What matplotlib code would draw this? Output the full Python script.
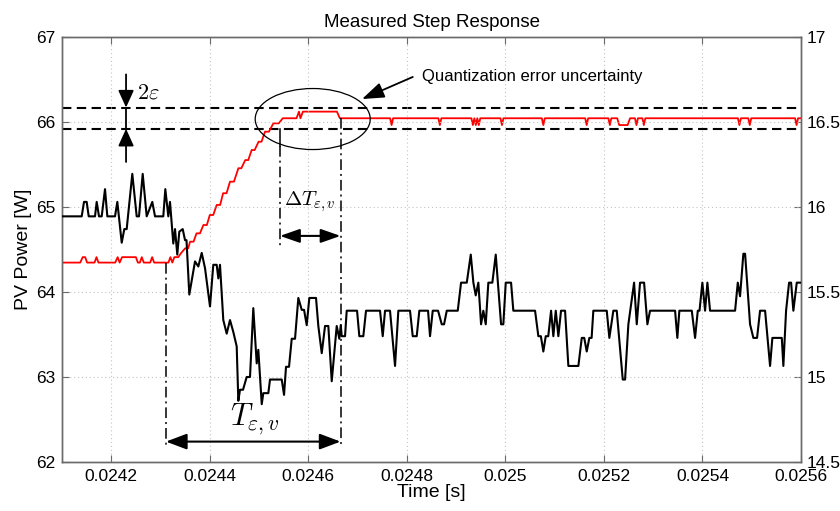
import matplotlib
matplotlib.use("Agg")
import matplotlib.pyplot as plt
import numpy as np
from matplotlib.patches import Ellipse

plt.rcParams['font.family'] = ['Liberation Sans', 'DejaVu Sans']
plt.rcParams['mathtext.fontset'] = 'cm'

# ---------------- data ----------------
# PV power (left axis), time in microseconds
black_t_us = [24100.0, 24140.0, 24144.7, 24150.1, 24154.2, 24167.0, 24170.4, 24175.1, 24180.6, 24187.3,
              24192.0, 24207.6, 24212.3, 24221.2, 24226.5, 24231.3, 24242.7, 24251.6, 24256.3, 24263.8,
              24271.9, 24283.3, 24288.8, 24305.6, 24309.7, 24315.8, 24319.2, 24325.9, 24329.4, 24334.0,
              24338.1, 24345.0, 24349.7, 24352.7, 24358.4, 24370.0, 24376.7, 24383.6, 24390.3, 24400.4,
              24407.1, 24414.0, 24417.3, 24420.7, 24427.4, 24434.3, 24441.0, 24447.7, 24454.6, 24457.9,
              24461.3, 24467.4, 24474.9, 24481.6, 24488.3, 24495.2, 24498.5, 24505.4, 24508.6, 24518.8,
              24522.2, 24546.0, 24550.7, 24554.7, 24560.8, 24566.3, 24573.0, 24579.7, 24586.6, 24591.3,
              24596.7, 24602.0, 24615.6, 24620.3, 24627.2, 24633.9, 24640.6, 24647.5, 24657.6, 24662.9,
              24665.8, 24667.8, 24674.5, 24677.9, 24698.9, 24703.5, 24711.6, 24717.1, 24745.5, 24751.0,
              24755.7, 24765.8, 24776.0, 24782.7, 24806.4, 24811.9, 24820.0, 24825.3, 24843.0, 24847.0,
              24852.5, 24863.3, 24870.8, 24875.5, 24881.0, 24903.3, 24910.0, 24921.6, 24929.7, 24935.0,
              24939.8, 24945.1, 24950.6, 24955.2, 24960.1, 24965.4, 24973.5, 24980.4, 24991.2, 24995.8,
              25000.7, 25011.5, 25016.1, 25060.2, 25066.9, 25072.0, 25077.0, 25081.9, 25087.0, 25092.7,
              25097.3, 25102.2, 25107.5, 25112.9, 25121.1, 25127.8, 25148.1, 25155.0, 25160.0, 25165.1,
              25170.4, 25175.0, 25178.5, 25205.7, 25211.0, 25219.1, 25226.0, 25238.2, 25242.9, 25249.6,
              25261.2, 25266.6, 25273.3, 25281.5, 25288.2, 25293.6, 25344.4, 25349.0, 25353.1, 25378.3,
              25385.0, 25390.5, 25394.0, 25399.8, 25405.3, 25410.0, 25415.4, 25466.2, 25471.7, 25476.3,
              25483.0, 25486.5, 25496.6, 25503.3, 25510.8, 25516.9, 25527.1, 25532.0, 25537.2, 25541.9,
              25561.0, 25564.2, 25569.7, 25575.8, 25579.9, 25584.5, 25591.4, 25600.2]
black_power = [64.89, 64.89, 65.06, 65.06, 64.89, 64.89, 65.06, 64.89, 64.89, 65.21,
               64.89, 64.89, 65.06, 64.58, 64.74, 64.74, 65.39, 64.89, 64.89, 65.39,
               64.89, 65.06, 64.89, 64.89, 65.21, 64.89, 65.06, 64.57, 64.74, 64.44,
               64.71, 64.74, 64.61, 64.61, 63.97, 64.36, 64.30, 64.46, 64.28, 63.83,
               64.32, 64.32, 64.16, 64.32, 63.67, 63.51, 63.67, 63.53, 63.36, 62.72,
               62.85, 62.85, 63.00, 63.00, 63.81, 63.16, 63.32, 62.68, 62.81, 62.81,
               62.97, 62.97, 62.79, 63.12, 63.12, 63.45, 63.45, 63.93, 63.79, 63.79,
               63.61, 63.93, 63.93, 63.60, 63.28, 63.60, 63.60, 62.95, 63.60, 63.45,
               63.61, 63.48, 63.48, 63.78, 63.78, 63.48, 63.48, 63.78, 63.78, 63.48,
               63.78, 63.78, 63.13, 63.78, 63.78, 63.48, 63.48, 63.78, 63.78, 63.48,
               63.78, 63.78, 63.62, 63.62, 63.78, 63.78, 64.11, 64.11, 64.44, 64.11,
               63.96, 64.11, 63.62, 63.78, 63.62, 64.11, 64.11, 64.44, 63.62, 63.62,
               64.11, 64.11, 63.78, 63.78, 63.48, 63.48, 63.30, 63.48, 63.48, 63.78,
               63.48, 63.78, 63.48, 63.78, 63.78, 63.13, 63.13, 63.46, 63.46, 63.30,
               63.46, 63.46, 63.78, 63.78, 63.46, 63.78, 63.78, 62.97, 62.97, 63.62,
               64.11, 63.62, 64.11, 64.11, 63.62, 63.78, 63.78, 63.46, 63.78, 63.78,
               63.46, 63.78, 63.78, 64.11, 63.78, 64.11, 63.78, 63.78, 64.11, 63.95,
               64.45, 64.45, 63.62, 63.46, 63.46, 63.78, 63.78, 63.46, 63.13, 63.46,
               63.46, 63.13, 63.78, 64.11, 64.11, 63.78, 64.11, 64.11]

# Second signal (right axis)
red_t_us = [24100, 24137, 24142, 24147, 24151, 24166, 24170, 24174, 24208, 24213,
            24217, 24222, 24250, 24254, 24258, 24262, 24266, 24279, 24283, 24287,
            24316, 24320, 24324, 24328, 24336, 24342, 24350, 24356, 24360, 24367,
            24373, 24380, 24387, 24394, 24400, 24407, 24414, 24421, 24427, 24434,
            24441, 24449, 24458, 24464, 24472, 24478, 24485, 24491, 24499, 24505,
            24512, 24520, 24529, 24540, 24548, 24576, 24581, 24584, 24589, 24658,
            24664, 24766, 24769, 24772, 24864, 24867, 24870, 24931, 24934, 24937,
            24940, 24943, 24946, 24949, 24990, 24993, 24996, 25074, 25077, 25080,
            25162, 25165, 25168, 25209, 25212, 25215, 25227, 25231, 25248, 25253,
            25263, 25266, 25269, 25278, 25281, 25284, 25472, 25475, 25478, 25493,
            25496, 25499, 25588, 25591, 25594, 25600]
red_value = [15.673, 15.673, 15.705, 15.705, 15.673, 15.673, 15.705, 15.673, 15.673, 15.705,
             15.673, 15.705, 15.705, 15.673, 15.673, 15.705, 15.673, 15.673, 15.705, 15.673,
             15.673, 15.705, 15.673, 15.705, 15.705, 15.730, 15.757, 15.757, 15.796, 15.796,
             15.845, 15.845, 15.894, 15.894, 15.953, 15.953, 16.012, 16.012, 16.081, 16.081,
             16.149, 16.149, 16.228, 16.228, 16.276, 16.276, 16.335, 16.335, 16.384, 16.384,
             16.443, 16.443, 16.492, 16.492, 16.522, 16.522, 16.561, 16.522, 16.561, 16.561,
             16.522, 16.522, 16.482, 16.522, 16.522, 16.482, 16.522, 16.522, 16.482, 16.522,
             16.482, 16.522, 16.482, 16.522, 16.522, 16.482, 16.522, 16.522, 16.482, 16.522,
             16.522, 16.482, 16.522, 16.522, 16.482, 16.522, 16.522, 16.482, 16.482, 16.522,
             16.522, 16.482, 16.522, 16.522, 16.482, 16.522, 16.522, 16.482, 16.522, 16.522,
             16.482, 16.522, 16.522, 16.482, 16.522, 16.522]

# quantization band (right-axis units)
band_levels = [16.584, 16.459]

x_ticks = [0.0242, 0.0244, 0.0246, 0.0248, 0.0250, 0.0252, 0.0254, 0.0256]
x_tick_labels = ['0.0242', '0.0244', '0.0246', '0.0248', '0.025', '0.0252', '0.0254', '0.0256']
left_ticks = [62, 63, 64, 65, 66, 67]
left_tick_labels = ['62', '63', '64', '65', '66', '67']
right_ticks = [14.5, 15, 15.5, 16, 16.5, 17]
right_tick_labels = ['14.5', '15', '15.5', '16', '16.5', '17']

# annotation anchors (time in us, left-axis power)
t_start_us = 24311.0
t_end_us = 24665.3
t_settle_us = 24542.5
t_eps_us = 24230.0

# ---------------- figure ----------------
fig = plt.figure(figsize=(8.4, 5.11), dpi=100)
ax = fig.add_axes([62/840, 49/511, 739/840, 425/511])
ax2 = ax.twinx()

us = 1e-6
bt = np.array(black_t_us) * us
rt = np.array(red_t_us) * us

ax2.plot(rt, red_value, color='#ff0000', lw=1.3, zorder=3)
for lvl in band_levels:
    ax2.axhline(lvl, color='k', lw=1.5, linestyle=(0, (4.5, 2.6)), zorder=2)

ax.plot(bt, black_power, color='k', lw=1.5, zorder=3)

ax.set_zorder(ax2.get_zorder() + 1)
ax.patch.set_visible(False)

ax.set_xlim(0.0241, 0.0256)
ax.set_ylim(62, 67)
ax2.set_ylim(14.5, 17)

ax.set_xticks(x_ticks)
ax.set_xticklabels(x_tick_labels)
ax.set_yticks(left_ticks)
ax.set_yticklabels(left_tick_labels)
ax2.set_yticks(right_ticks)
ax2.set_yticklabels(right_tick_labels)

spine_col = '#6a6a6a'
for a in (ax, ax2):
    for s in a.spines.values():
        s.set_color(spine_col)
        s.set_linewidth(1.0)
ax.tick_params(axis='both', direction='in', length=5, width=0.8, color=spine_col,
               labelsize=12.5, top=True, right=False, pad=5)
ax2.tick_params(axis='y', direction='in', length=5, width=0.8, color=spine_col,
                labelsize=12.5, pad=4)

ax.grid(True, linestyle=(0, (1, 2.5)), color='#c4c4c4', lw=0.8)

ax.set_title('Measured Step Response', fontsize=13.5, pad=7)
ax.set_xlabel('Time [s]', fontsize=14, labelpad=0)
ax.set_ylabel('PV Power [W]', fontsize=14, labelpad=3)

# ---------------- annotations ----------------
dashdot = (0, (7, 2.6, 1.3, 2.6))
ax.plot([t_start_us*us, t_start_us*us], [64.34, 62.18], color='k', lw=1.1, linestyle=dashdot, zorder=4)
ax.plot([t_end_us*us, t_end_us*us], [66.05, 62.20], color='k', lw=1.1, linestyle=dashdot, zorder=4)
ax.plot([t_settle_us*us, t_settle_us*us], [65.92, 65.72], color='k', lw=1.1, zorder=4)
ax.plot([t_settle_us*us, t_settle_us*us], [65.72, 64.51], color='k', lw=1.1, linestyle=dashdot, zorder=4)

# T arrow
ax.annotate('', xy=(t_start_us*us, 62.24), xytext=(t_end_us*us, 62.24),
            arrowprops=dict(arrowstyle='<|-|>,head_length=0.85,head_width=0.32', mutation_scale=15,
                            color='k', lw=1.5, shrinkA=0, shrinkB=0), zorder=5)
ax.text(24491.8*us, 62.50, r'$T_{\varepsilon,v}$', fontsize=22, ha='center', va='center', zorder=5)

# Delta T arrow
ax.annotate('', xy=(t_settle_us*us, 64.66), xytext=(t_end_us*us, 64.66),
            arrowprops=dict(arrowstyle='<|-|>,head_length=0.8,head_width=0.28', mutation_scale=15,
                            color='k', lw=1.5, shrinkA=0, shrinkB=0), zorder=5)
ax.text(24604*us, 65.06, r'$\Delta T_{\varepsilon,v}$', fontsize=15, ha='center', va='center', zorder=5)

# 2 epsilon arrows
ax.plot([t_eps_us*us, t_eps_us*us], [66.17, 65.92], color='k', lw=1.3, zorder=5)
ax.annotate('', xy=(t_eps_us*us, 66.17), xytext=(t_eps_us*us, 66.56),
            arrowprops=dict(arrowstyle='-|>,head_length=0.75,head_width=0.34', mutation_scale=14,
                            color='k', lw=1.3, shrinkA=0, shrinkB=0), zorder=5)
ax.annotate('', xy=(t_eps_us*us, 65.92), xytext=(t_eps_us*us, 65.53),
            arrowprops=dict(arrowstyle='-|>,head_length=0.75,head_width=0.34', mutation_scale=14,
                            color='k', lw=1.3, shrinkA=0, shrinkB=0), zorder=5)
ax.text(24252*us, 66.34, r'$2\varepsilon$', fontsize=16, ha='left', va='center', zorder=5)

# ellipse + quantization annotation
ax.add_patch(Ellipse((24608.9*us, 66.035), 233.5*us, 0.718, fill=False, ec='k', lw=0.9, zorder=5))
ax.annotate('', xy=(24709*us, 66.27), xytext=(24812*us, 66.53),
            arrowprops=dict(arrowstyle='-|>,head_length=0.9,head_width=0.32', mutation_scale=15,
                            color='k', lw=1.3, shrinkA=0, shrinkB=0), zorder=5)
ax.text(24830*us, 66.54, 'Quantization error uncertainty', fontsize=12, ha='left', va='center', zorder=5)

fig.savefig('out.png', dpi=100, facecolor='white')
